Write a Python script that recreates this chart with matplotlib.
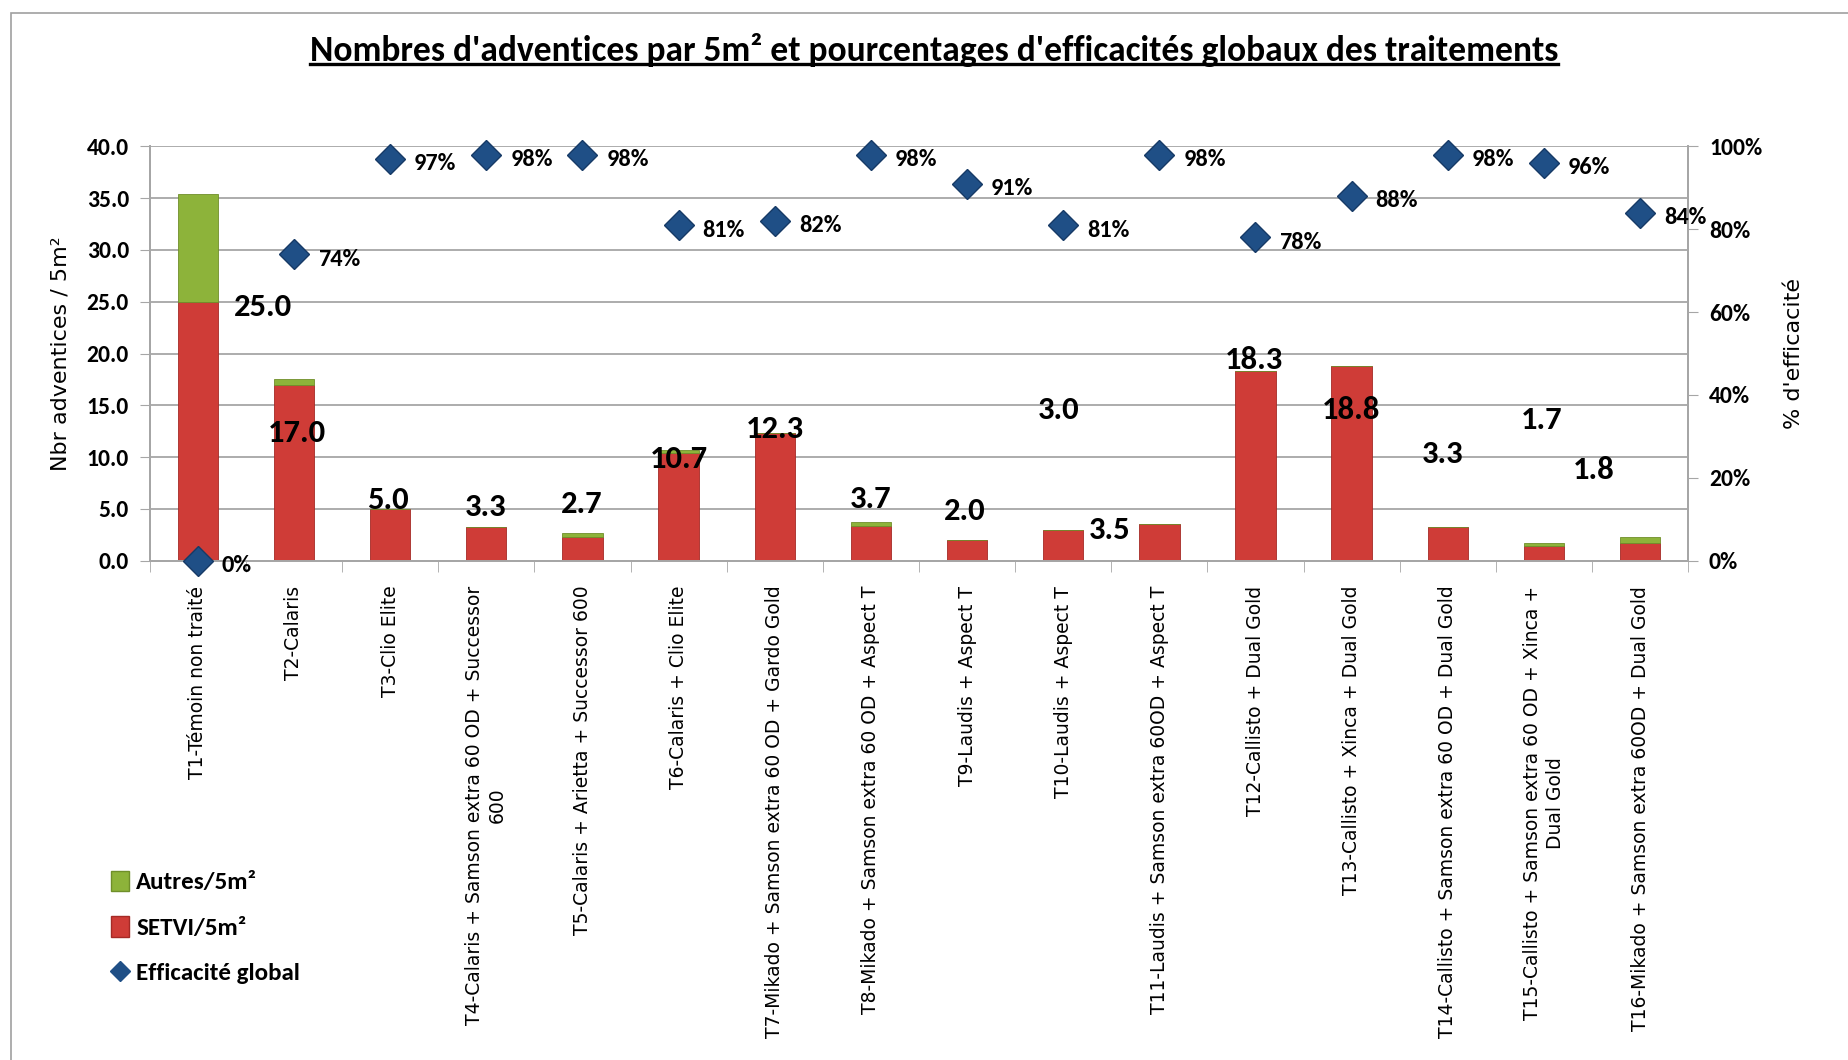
import numpy as np
import matplotlib
matplotlib.use("Agg")
import matplotlib.pyplot as plt
from matplotlib.lines import Line2D
from matplotlib.patches import Patch, Rectangle
from matplotlib.ticker import FormatStrFormatter, PercentFormatter

# Data
traitements = ["T1-Témoin non traité", "T2-Calaris", "T3-Clio Elite",
               "T4-Calaris + Samson extra 60 OD + Successor\n600",
               "T5-Calaris + Arietta + Successor 600", "T6-Calaris + Clio Elite",
               "T7-Mikado + Samson extra 60 OD + Gardo Gold",
               "T8-Mikado + Samson extra 60 OD + Aspect T",
               "T9-Laudis + Aspect T", "T10-Laudis + Aspect T",
               "T11-Laudis + Samson extra 60OD + Aspect T",
               "T12-Callisto + Dual Gold", "T13-Callisto + Xinca + Dual Gold",
               "T14-Callisto + Samson extra 60 OD + Dual Gold",
               "T15-Callisto + Samson extra 60 OD + Xinca +\nDual Gold",
               "T16-Mikado + Samson extra 60OD + Dual Gold"]
setvi = [25.0, 17.0, 5.0, 3.3, 2.3, 10.4, 12.3, 3.4, 2.0, 3.0, 3.5, 18.3, 18.8, 3.3, 1.4, 1.7]
autres = [10.4, 0.5, 0.0, 0.0, 0.4, 0.3, 0.0, 0.3, 0.0, 0.0, 0.0, 0.0, 0.0, 0.0, 0.3, 0.6]
efficacite = [0, 74, 97, 98, 98, 81, 82, 98, 91, 81, 98, 78, 88, 98, 96, 84]
value_labels = ["25.0", "17.0", "5.0", "3.3", "2.7", "10.7", "12.3", "3.7",
                "2.0", "3.0", "3.5", "18.3", "18.8", "3.3", "1.7", "1.8"]
# where the (hand-moved) data labels sit in the original
label_dx = [0.68, 0.03, -0.02, -0.01, -0.01, 0.0, 0.0, 0.0, -0.02, -0.05, -0.52, -0.02, -0.01, -0.05, -0.02, -0.48]
label_y = [24.5, 12.3, 5.9, 5.2, 5.5, 9.8, 12.7, 6.0, 4.8, 14.5, 3.0, 19.4, 14.5, 10.3, 13.6, 8.75]

red = "#cf3c37"
green = "#8db33a"
blue = "#1f4f86"
grid_grey = "#a6a6a6"
calibri = ["Carlito", "DejaVu Sans"]

fig = plt.figure(figsize=(18.49, 10.60), dpi=100)
ax = fig.add_axes([0.081, 0.471, 0.832, 0.391])
ax2 = ax.twinx()

x = np.arange(len(traitements))
ax.bar(x, setvi, width=0.42, color=red, edgecolor="#a52a26", linewidth=0.6, zorder=2)
ax.bar(x, autres, width=0.42, bottom=setvi, color=green, edgecolor="#6f8f2a",
       linewidth=0.6, zorder=2)

for i in range(len(x)):
    ax.text(x[i] + label_dx[i], label_y[i], value_labels[i], ha="center", va="center",
            fontsize=23.5, fontweight="bold", family=calibri, zorder=5)

eff = np.array(efficacite) / 100
ax2.plot(x, eff, linestyle="none", marker="D", markersize=15, color=blue,
         markeredgecolor="#163a66", zorder=4, clip_on=False)
for i in range(len(x)):
    ax2.text(x[i] + 0.25, eff[i] - 0.012, f"{efficacite[i]}%", ha="left", va="center",
             fontsize=17.5, fontweight="bold", family=calibri)

ax.set_xlim(-0.5, len(x) - 0.5)
ax.set_ylim(0, 40)
ax2.set_ylim(0, 1)
ax.set_yticks(np.arange(0, 40.1, 5))
ax.yaxis.set_major_formatter(FormatStrFormatter("%.1f"))
ax2.set_yticks(np.arange(0, 1.01, 0.2))
ax2.yaxis.set_major_formatter(PercentFormatter(1.0, decimals=0))
ax.yaxis.grid(True, color=grid_grey, linewidth=1.3, zorder=0)
ax.set_axisbelow(True)

ax.set_xticks(x)
ax.set_xticklabels(traitements, rotation=90, fontsize=13.5, linespacing=1.25, ha="center", va="top")
ax.set_xticks(np.arange(-0.5, len(x), 1), minor=True)
ax.tick_params(axis="x", which="major", length=0, pad=18)
ax.tick_params(axis="x", which="minor", length=8, color=grid_grey)
ax.tick_params(axis="y", length=7, color=grid_grey, pad=8)
ax2.tick_params(axis="y", length=7, color=grid_grey, pad=8)
for lbl in ax.get_yticklabels() + ax2.get_yticklabels():
    lbl.set_fontsize(17)
    lbl.set_fontweight("bold")
    lbl.set_family(calibri)

for a in (ax, ax2):
    a.spines["top"].set_visible(False)
    for s in ("left", "right", "bottom"):
        a.spines[s].set_color(grid_grey)
        a.spines[s].set_linewidth(1.3)

ax.set_ylabel("Nbr adventices / 5m²", fontsize=16, labelpad=12)
ax2.set_ylabel("% d'efficacité", fontsize=16, labelpad=16)

title = fig.text(0.505, 0.953, "Nombres d'adventices par 5m² et pourcentages d'efficacités globaux des traitements",
                 ha="center", va="center", fontsize=25.6, fontweight="bold", family=calibri)

handles = [Patch(facecolor=green, edgecolor="#6f8f2a"),
           Patch(facecolor=red, edgecolor="#a52a26"),
           Line2D([], [], linestyle="none", marker="D", markersize=10, color=blue)]
fig.legend(handles, ["Autres/5m²", "SETVI/5m²", "Efficacité global"],
           loc="upper left", bbox_to_anchor=(0.048, 0.2), frameon=False,
           prop={"family": calibri, "weight": "bold", "size": 18},
           handlelength=0.7, handleheight=0.9, handletextpad=0.3, labelspacing=0.9)

fig.patches.append(Rectangle((0.006, -0.01), 1.1, 0.998, transform=fig.transFigure,
                             fill=False, edgecolor="#a0a0a0", linewidth=1.2))

fig.canvas.draw()
bb = title.get_window_extent().transformed(fig.transFigure.inverted())
fig.add_artist(Line2D([bb.x0, bb.x1], [bb.y0 + 0.003, bb.y0 + 0.003], color="black",
                      linewidth=2.4, transform=fig.transFigure))

fig.savefig("out.png", dpi=100)
